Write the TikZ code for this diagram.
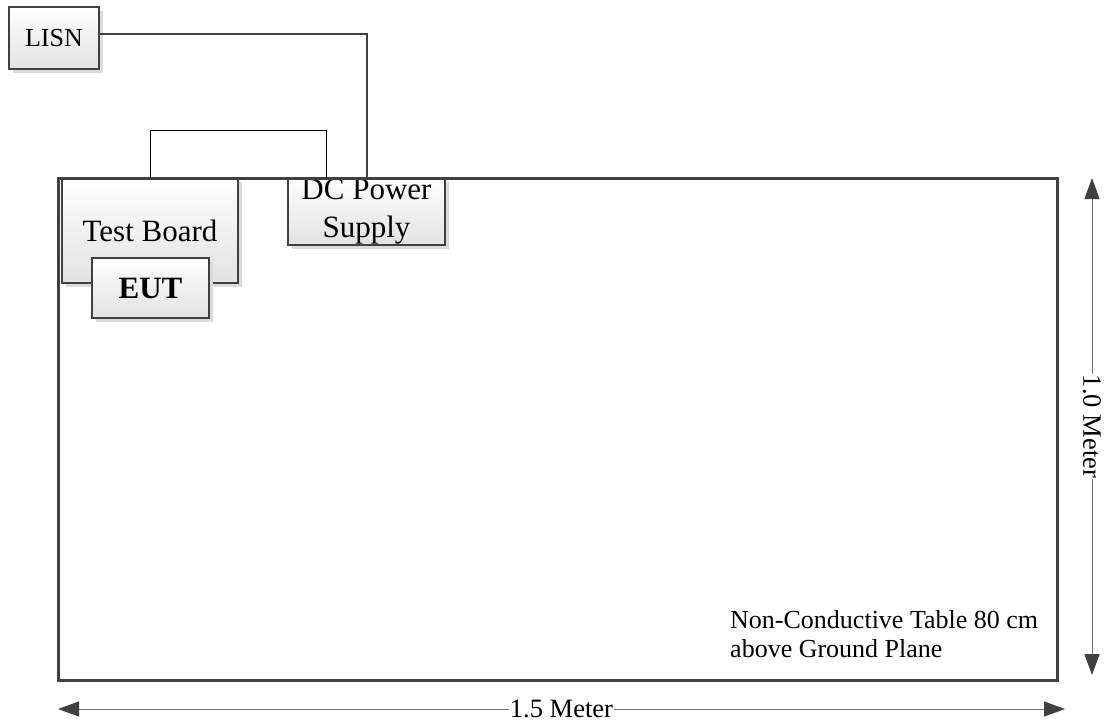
\documentclass[tikz,border=0pt]{standalone}
\usepackage{fontspec}
\setmainfont{Liberation Serif}
\usetikzlibrary{arrows.meta,shadows}
\definecolor{boxline}{HTML}{404040}
\definecolor{boxgray}{HTML}{E2E2E2}
\definecolor{dimline}{HTML}{707070}
\begin{document}
\begin{tikzpicture}[x=1pt,y=-1pt,
  box/.style={draw=boxline, line width=2.5pt, top color=white, bottom color=boxgray,
    inner sep=0pt, outer sep=0pt, anchor=north west, align=center,
    drop shadow={shadow xshift=4pt, shadow yshift=-4pt, fill=black!14, opacity=1}},
  tablebox/.style={draw=boxline, line width=3pt, inner sep=0pt, outer sep=0pt, anchor=north west},
  wire/.style={draw=boxline, line width=2pt},
  thinwire/.style={draw=black, line width=0.9pt},
  dimtip/.tip={Triangle[length=21pt,width=15pt,color=boxline,fill=boxline]},
  dimarrow/.style={draw=dimline, line width=1pt, dimtip-dimtip},
  dimlabel/.style={fill=white, inner sep=1pt, font=\fontsize{26.5}{30}\selectfont},
  bigtext/.style={font=\fontsize{31}{38}\selectfont}
]
\useasboundingbox (0,0) rectangle (1105,724);
% boxes
\node[box, minimum width=90pt, minimum height=62pt, font=\fontsize{26}{30}\selectfont] (lisn) at (9,7) {LISN};
\node[box, bigtext, minimum width=176pt, minimum height=105pt] (tb) at (62,178) {Test Board};
\node[box, minimum width=117pt, minimum height=60pt, font=\fontsize{31}{38}\selectfont\bfseries] (eut) at (92,258) {EUT};
\node[box, bigtext, minimum width=157pt, minimum height=67pt] (dc) at (288,178) {DC Power\\Supply};
% table
\node[tablebox, minimum width=999pt, minimum height=502pt] (table) at (58,178) {};
\node[anchor=north west, inner sep=0pt, align=left, font=\fontsize{26}{29}\selectfont] (tabletext) at (730,610) {Non-Conductive Table 80 cm\\above Ground Plane};
% wires
\draw[wire] ([yshift=4pt]lisn.east) -| (dc.north);
\draw[thinwire] (tb.north) -- ++(0,-48) -| ([xshift=-40.5pt]dc.north);
% dimensions
\coordinate (vtop) at (1092,178);
\coordinate (vbot) at (1092,675);
\coordinate (hl) at (58,709);
\coordinate (hr) at (1065,709);
\draw[dimarrow] (vtop) -- (vbot) node[midway, dimlabel, rotate=-90] (vlab) {1.0 Meter};
\draw[dimarrow] (hl) -- (hr) node[midway, dimlabel] (hlab) {1.5 Meter};
\end{tikzpicture}
\end{document}
